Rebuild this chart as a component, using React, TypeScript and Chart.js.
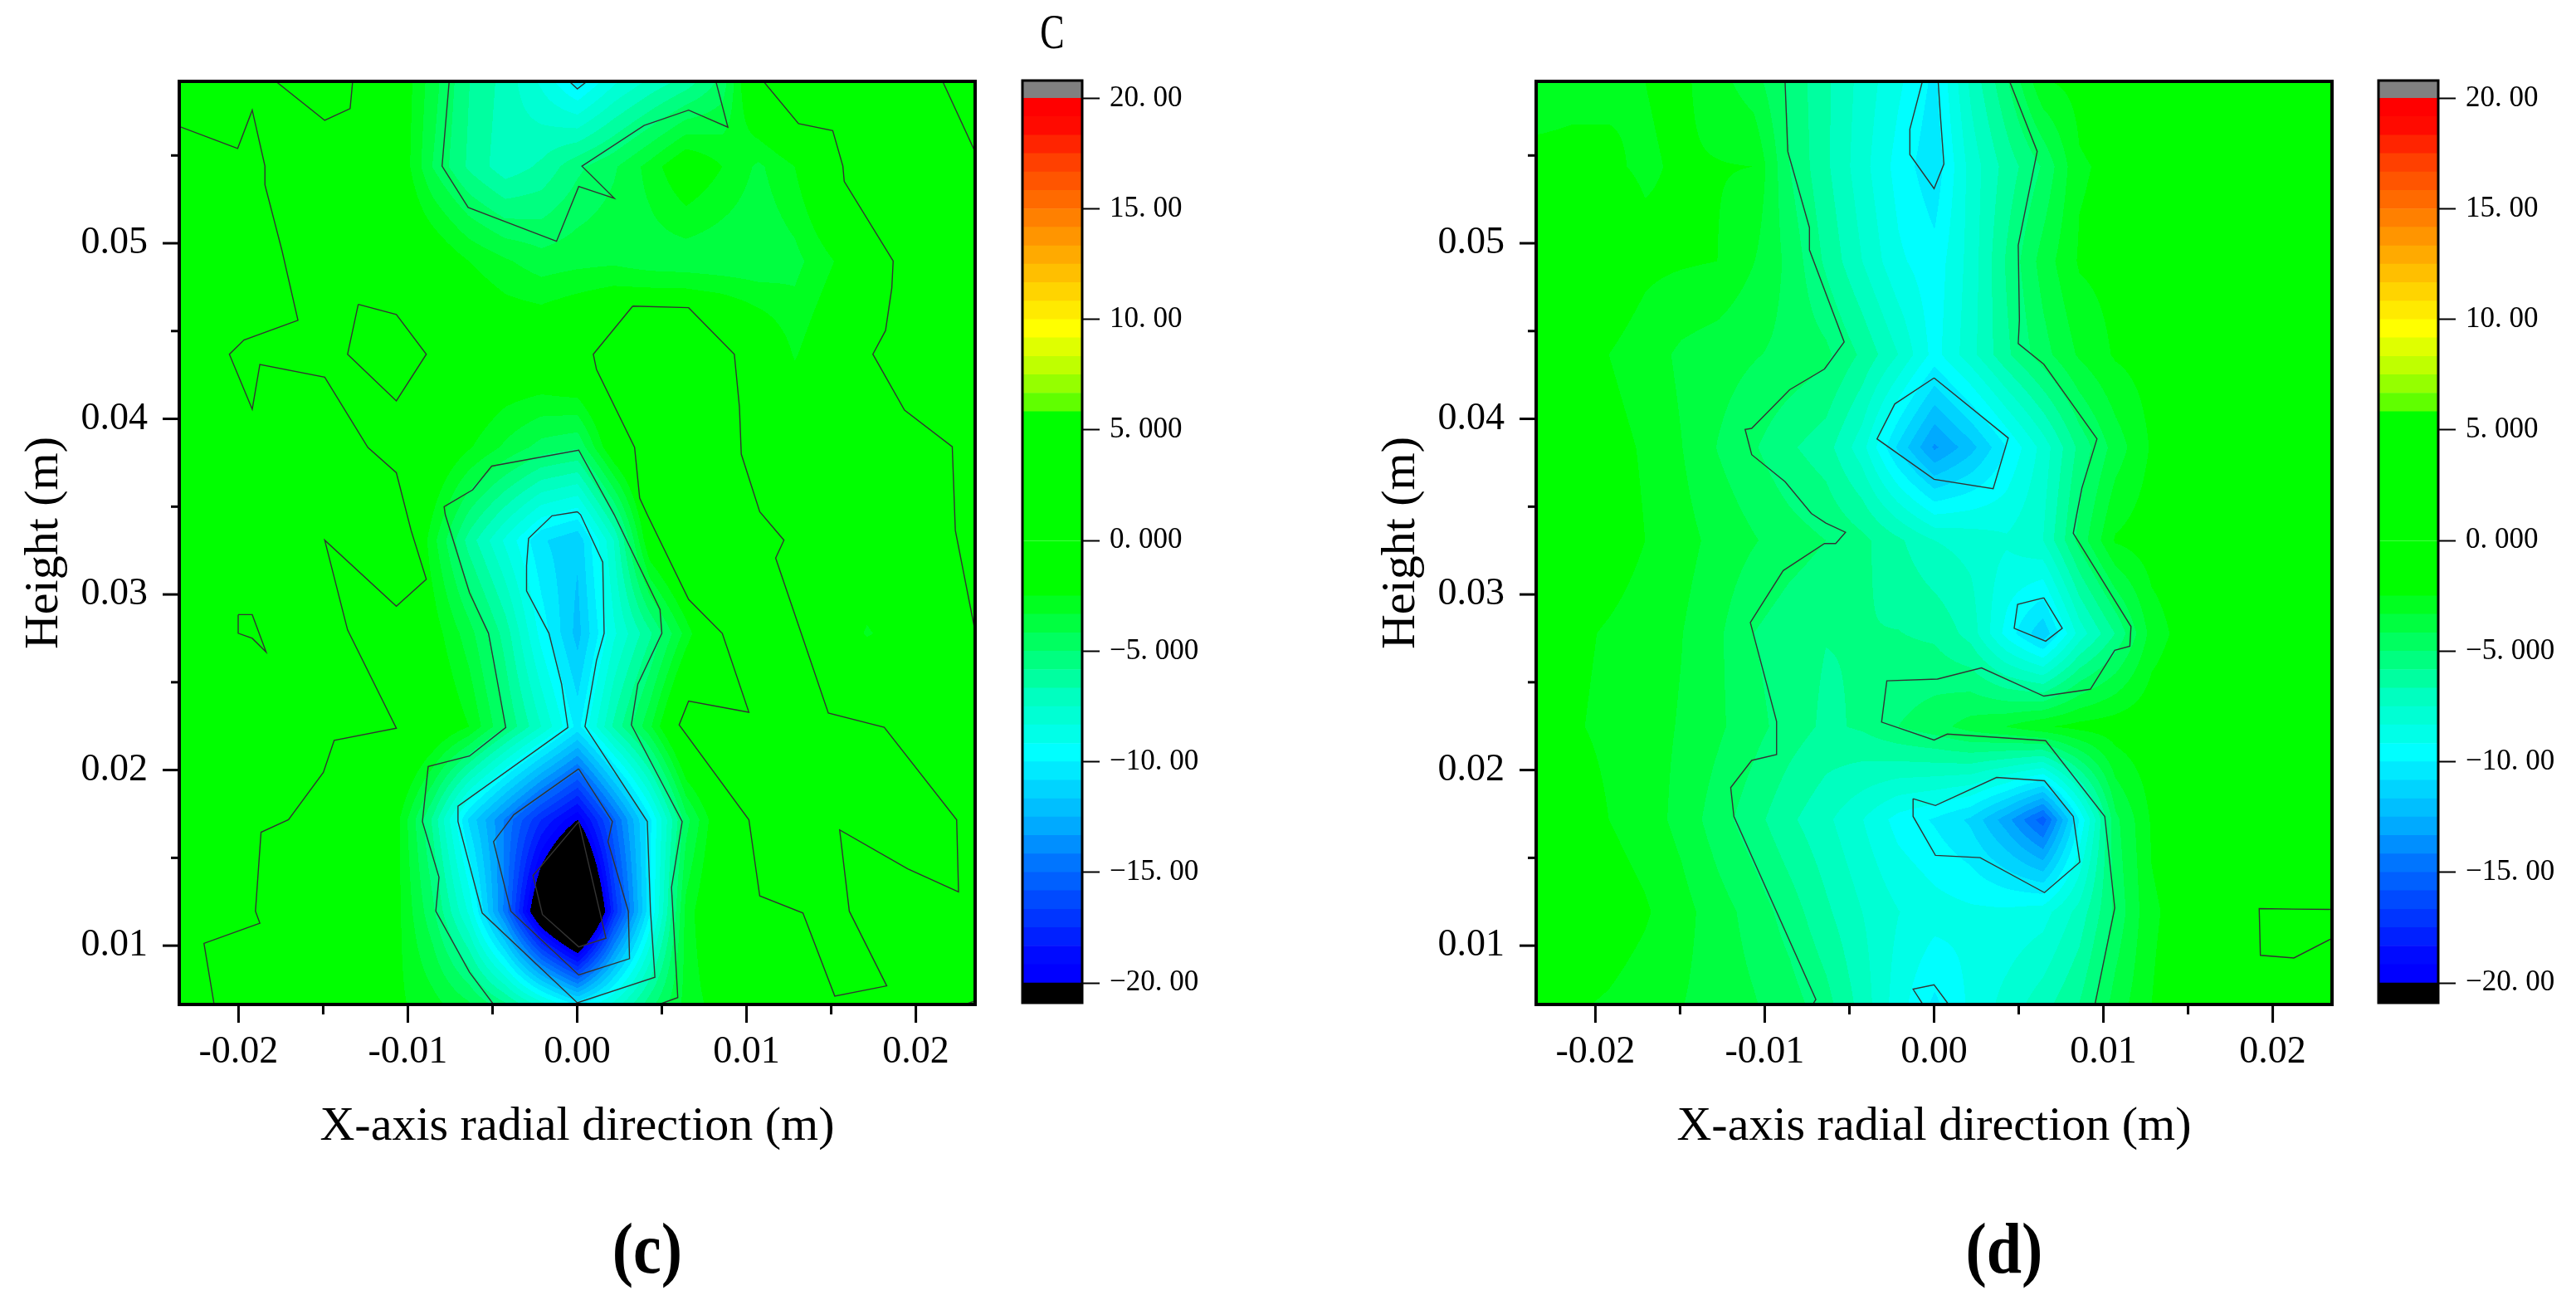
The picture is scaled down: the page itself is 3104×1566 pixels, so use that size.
import { useEffect, useRef } from 'react';
import Chart from 'chart.js/auto';

// all positions in the field and the contours are in millimetres
const MM = 0.001;

const xNodes = [-23.5, -21.36, -19.23, -17.09, -14.95, -12.82, -10.68, -8.55, -6.41, -4.27, -2.14, 0, 2.14, 4.27, 6.41, 8.55, 10.68, 12.82, 14.95, 17.09, 19.23, 21.36, 23.5];
const yNodes = [6.65, 11.96, 17.2, 22.5, 27.8, 33.1, 38.4, 43.68, 49.0, 54.39, 59.22];

// rows go from the bottom of the plot to the top
const fieldC = [
  [0.5, 0, -0.4, -0.8, -1.1, -1.6, -2.3, -3, -4, -5.6, -7.8, -10.1, -8, -5.3, -3, -2, -1.4, -1, -0.6, -0.7, -0.8, -0.5, -0.2],
  [1.5, 0.8, 0.1, -0.4, -0.8, -1.3, -2.2, -4.8, -8.5, -14.5, -22.5, -28, -17.5, -10.1, -3, -0.8, -0.2, -0.1, 0.5, -0.6, -0.8, -0.6, -0.2],
  [1.5, 1.2, 0.8, 0, -0.6, -1, -2.2, -6, -11, -14.3, -17.5, -20, -15.2, -10.2, -4.5, -1.3, 0.2, 0.6, 0.3, 0.4, 0.5, 0.2, -0.4],
  [1.5, 1.4, 1.2, 1, 0.6, 0.3, 0, -1.2, -2.5, -5, -7.5, -10.3, -6.5, -3.5, 0.2, 0.8, 1, 0.5, 0.3, 0.1, -0.4, -0.6, -0.3],
  [0.8, 0.5, -0.1, 0.5, 0.2, -0.3, -1, -2, -3.8, -6.2, -9.5, -12, -8.5, -6, -3, 0, 0.6, 0.2, -1.6, -2.6, -2, -1, 0],
  [1.5, 1.2, 0.8, 0.3, 0, 0.3, 0.2, -3, -6.2, -8.5, -10.7, -11.5, -7.5, -1.5, 0.5, 1, 0.6, -0.3, -1, -1.5, -1.2, -0.3, 0.4],
  [1.5, 1.2, 1, 0.8, 0.4, 0.05, -0.5, -1.2, -2.4, -3.5, -4.5, -4.9, -1.5, 0.4, 1, 0.6, -0.3, -1, -1.2, -1, -0.6, -0.2, 0.4],
  [1.2, 0.5, -0.5, -0.6, -0.3, 0.2, 0.6, -0.1, -0.8, -1.2, -1, -0.4, 0.3, 0.8, 0.9, 0.3, -1, -2.6, -1.5, -0.2, 0.6, 1, 1.2],
  [1.5, 1.2, 0.6, -0.2, -0.6, -0.8, -1, -1.5, -2.5, -3.2, -3.8, -3.6, -3.5, -3.8, -3.9, -4, -4, -3.6, -2.6, -1.5, 0.2, 1, 1.2],
  [1, 0.8, 0.3, -0.4, -0.8, -1, -1.5, -4.2, -6, -7.2, -6.5, -5.2, -4.3, -3, -1.5, -2.5, -3.5, -2.5, -0.5, 0.5, 0.8, 0.6, 0.2],
  [-1, -1, -0.8, 0.3, 0.5, -0.3, -1.5, -3.8, -5.8, -7, -8.5, -10.3, -8.5, -7.3, -6.3, -4.7, -0.4, 0.8, 1, 1, 0.8, 0.1, -0.8],
];

const fieldD = [
  [-2.2, -2.4, -2.6, -2.9, -3.3, -3.7, -4.1, -4.6, -5.5, -7, -8.8, -10.2, -9, -8, -7, -5.8, -3.8, -2.5, -2, -1.8, -1.6, -1.4, -1.2],
  [-1.4, -1.7, -2, -2.4, -3, -3.8, -4.5, -5.4, -6.5, -7.5, -8.3, -8.8, -9, -9, -8.7, -7.2, -4.8, -2.6, -2.2, -1.6, 0, 0.3, 0.1],
  [-1.6, -1.9, -2.5, -2.9, -3.6, -4.6, -5.5, -6.5, -7.3, -8.3, -9.5, -10.1, -11, -13, -15.5, -10, -4.4, -2.4, -2, -1.8, -1.5, -1.2, -1],
  [-1.6, -2.4, -2.7, -3, -3.4, -4, -4.7, -5.4, -6, -5.7, -5, -4.5, -3.8, -3.3, -2.6, -2.2, -2, -1.8, -1.6, -1.4, -1.3, -1.2, -1],
  [-1.6, -2.3, -2.6, -2.9, -3.3, -4, -5, -5.5, -5.8, -5.8, -5.8, -6, -7, -9.5, -11.5, -8, -5.8, -3, -2, -1.6, -1.4, -1.2, -1],
  [-1.5, -1.8, -2, -2.5, -3, -3.6, -4.1, -4.6, -5, -5.6, -6.5, -7.5, -7.8, -8.2, -7.5, -4.7, -2.4, -2, -1.8, -1.6, -1.4, -1.2, -1],
  [-1.5, -1.8, -2.2, -2.6, -3.3, -4.2, -4.9, -5.7, -6.3, -8, -11, -13.5, -12, -10, -8, -5.6, -3.8, -2.4, -2.1, -1.9, -1.5, -1.2, -1],
  [-1.5, -1.7, -2.5, -2.9, -3.5, -3.8, -4.1, -4.4, -4.8, -6, -7.5, -9.5, -7.8, -6, -4.5, -3.2, -2.4, -2.1, -1.8, -1.5, -1.3, -1.2, -1],
  [-1.4, -1.6, -1.8, -2.3, -2.4, -2.5, -3.3, -4.4, -6, -7.5, -9, -9.7, -8, -5.7, -3.8, -2.4, -2.2, -2, -1.6, -1.4, -1.3, -1.2, -1],
  [-2.2, -2.2, -2.4, -2.6, -2.4, -2.45, -2.5, -5, -6.5, -8, -9.5, -10.6, -8, -6.3, -4.9, -2.6, -2.3, -1.8, -1.5, -1.3, -1.2, -1.1, -1],
  [-3, -2.8, -2.6, -2.5, -2.3, -3, -3.8, -5.2, -6.5, -7.8, -9, -10.2, -7.3, -5.1, -2.6, -2.2, -1.8, -1.6, -1.5, -1.4, -1.2, -1.1, -1],
];

// contour lines, [x, y]
const contoursC = [
  [[-23.5, 56.65], [-20.05, 55.4], [-19.19, 57.58], [-18.44, 54.39], [-18.44, 53.33], [-17.43, 49.57], [-16.49, 45.61], [-19.68, 44.49], [-20.54, 43.68], [-19.19, 40.55], [-18.74, 43.1], [-14.91, 42.37], [-12.36, 38.37], [-10.68, 36.93], [-9.81, 33.65], [-8.91, 30.87], [-10.68, 29.33], [-14.91, 33.09], [-13.56, 27.98], [-10.68, 22.38], [-14.35, 21.69], [-14.99, 19.87], [-17.05, 17.17], [-18.67, 16.46], [-19.0, 11.96], [-18.74, 11.28], [-22.04, 10.13], [-21.44, 6.65]],
  [[-17.8, 59.22], [-14.91, 57.0], [-13.41, 57.67], [-13.26, 59.22]],
  [[-12.93, 46.52], [-10.68, 45.94], [-8.91, 43.68], [-10.68, 41.02], [-13.56, 43.68], [-12.93, 46.52]],
  [[-0.47, 59.22], [0.01, 58.79], [0.58, 59.22]],
  [[-7.56, 59.22], [-7.98, 54.39], [-6.44, 52.04], [-1.22, 50.11], [0.09, 53.23], [2.19, 52.56], [0.28, 54.39], [3.95, 56.71], [6.58, 57.58], [8.9, 56.61], [8.19, 59.22]],
  [[3.28, 46.42], [6.58, 46.33], [9.28, 43.68], [9.58, 40.69], [9.69, 37.99], [10.78, 34.71], [12.21, 33.09], [11.72, 32.07], [14.83, 23.25], [18.13, 22.44], [22.41, 17.17], [22.52, 13.06], [19.52, 14.37], [15.5, 16.59], [16.07, 11.96], [18.28, 7.71], [15.21, 7.13], [13.33, 11.86], [10.78, 12.83], [10.14, 17.17], [6.02, 22.57], [6.58, 23.93], [10.14, 23.29], [8.57, 27.78], [6.58, 29.72], [4.14, 34.54], [3.69, 35.48], [3.39, 38.37], [1.14, 42.81], [0.95, 43.68], [3.28, 46.42]],
  [[11.0, 59.22], [13.07, 56.81], [15.09, 56.42], [15.69, 54.39], [15.77, 53.52], [18.66, 48.99], [18.58, 47.45], [18.21, 45.03], [17.46, 43.68], [19.33, 40.5], [22.15, 38.41], [22.33, 33.65], [23.5, 27.9]],
  [[21.58, 59.22], [23.5, 55.2]],
  [[-20.02, 28.85], [-19.19, 28.85], [-18.37, 26.72], [-19.19, 27.5], [-20.02, 27.79], [-20.02, 28.85]],
  [[4.82, 6.65], [5.94, 7.04], [5.57, 13.31], [6.2, 17.07], [3.2, 22.57], [3.58, 24.89], [5.0, 27.79], [4.89, 29.14], [2.19, 34.54], [0.09, 38.22], [-5.05, 37.31], [-6.17, 35.96], [-7.86, 35.0], [-7.79, 34.54], [-6.36, 30.1], [-5.24, 27.79], [-4.94, 26.24], [-4.22, 22.42], [-6.36, 20.8], [-8.8, 20.2], [-9.14, 17.07], [-8.16, 13.89], [-8.35, 11.96], [-6.36, 8.49], [-4.94, 6.65]],
  [[0.01, 34.71], [-1.49, 34.48], [-2.87, 33.19], [-2.99, 31.65], [-2.99, 30.2], [-1.67, 27.79], [-0.92, 24.89], [-0.55, 22.42], [-7.04, 17.94], [-7.04, 17.07], [-5.61, 11.86], [0.01, 6.75], [4.59, 8.2], [4.33, 11.96], [4.14, 17.07], [0.46, 22.48], [1.14, 26.24], [1.59, 27.79], [1.51, 31.84], [0.2, 34.54], [0.01, 34.71]],
  [[0.09, 20.07], [2.08, 17.07], [1.82, 15.92], [3.02, 11.96], [3.09, 9.26], [0.09, 8.33], [-3.92, 11.96], [-4.94, 15.92], [-3.74, 17.46], [0.09, 20.07]],
  [[0.09, 17.07], [1.7, 10.42], [0.09, 9.93], [-2.05, 11.77], [-2.61, 13.99], [0.09, 17.07]],
  [[22.9, 6.65], [23.5, 6.85]],
];

const contoursD = [
  [[-8.8, 59.22], [-8.64, 55.23], [-7.36, 50.89], [-7.36, 49.62], [-5.31, 44.38], [-6.47, 42.84], [-8.53, 41.66], [-10.77, 39.46], [-11.16, 39.4], [-10.77, 37.96], [-8.8, 36.42], [-7.25, 34.61], [-6.39, 34.06], [-5.23, 33.54], [-5.81, 32.9], [-6.47, 32.9], [-8.91, 31.36], [-10.85, 28.4], [-9.3, 22.77], [-9.3, 20.88], [-10.77, 20.55], [-12.01, 19.0], [-11.82, 17.36], [-6.98, 6.94], [-7.17, 6.65]],
  [[4.46, 59.22], [6.09, 55.23], [4.97, 49.89], [5.04, 45.64], [4.97, 44.29], [6.48, 43.11], [9.62, 38.86], [8.73, 36.06], [8.42, 34.54], [8.22, 33.48], [11.63, 28.17], [11.56, 27.05], [10.67, 26.82], [9.23, 24.6], [6.48, 24.21], [2.8, 25.82], [0.2, 25.18], [-2.79, 25.08], [-3.1, 22.73], [0, 21.71], [0.78, 22.05], [6.59, 21.67], [10.08, 17.36], [10.67, 12.15], [9.5, 6.65]],
  [[-0.69, 59.22], [-1.43, 56.5], [-1.43, 55.05], [0, 53.11], [0.58, 54.51], [0.39, 57.04], [0.24, 59.22]],
  [[0, 42.33], [4.38, 38.91], [3.49, 36.02], [0, 36.56], [-3.37, 38.86], [-2.32, 40.85], [0, 42.33]],
  [[6.48, 29.81], [7.57, 28.07], [6.59, 27.34], [4.73, 28.07], [4.93, 29.43], [6.48, 29.81]],
  [[-1.24, 18.37], [0.08, 17.98], [3.69, 19.58], [6.52, 19.39], [8.22, 17.36], [8.61, 14.76], [6.52, 13.02], [2.72, 15.01], [0.08, 15.14], [-1.24, 17.36], [-1.24, 18.37]],
  [[-0.66, 6.65], [-1.24, 7.52], [0, 7.77], [0.86, 6.65]],
  [[23.5, 12.06], [21.25, 12.08], [19.2, 12.11], [19.27, 9.45], [21.25, 9.3], [23.5, 10.41]],
];

const xMajorTicks = [-0.02, -0.01, 0, 0.01, 0.02];
const xMinorTicks = [-0.015, -0.005, 0.005, 0.015];
const yMajorTicks = [0.01, 0.02, 0.03, 0.04, 0.05];
const yMinorTicks = [0.015, 0.025, 0.035, 0.045, 0.055];

// colour scale: 48 bands between 49 levels, bottom to top
const bandLevels = [-20, -19.17, -18.33, -17.5, -16.67, -15.83, -15, -14.17, -13.33, -12.5, -11.67, -10.83, -10, -9.17, -8.33, -7.5, -6.67, -5.83, -5, -4.17, -3.33, -2.5, -1.67, -0.83, 0, 0.83, 1.67, 2.5, 3.33, 4.17, 5, 5.83, 6.67, 7.5, 8.33, 9.17, 10, 10.83, 11.67, 12.5, 13.33, 14.17, 15, 15.83, 16.67, 17.5, 18.33, 19.17, 20];
const bandColors = [
  '#0000ff', '#000aff', '#0020ff', '#0035ff', '#004aff', '#0060ff', '#0075ff', '#008fff', '#00aaff', '#00bfff', '#00d4ff', '#00eaff',
  '#00ffff', '#00ffe8', '#00ffd4', '#00ffc0', '#00ffa0', '#00ff80', '#00ff60', '#00ff40', '#00ff20',
  '#00ff00', '#00ff00', '#00ff00', '#00ff00', '#00ff00', '#00ff00', '#00ff00', '#00ff00', '#00ff00', '#00ff00',
  '#60ff00', '#95ff00', '#bfff00', '#dfff00', '#ffff00', '#ffea00', '#ffd400', '#ffbf00', '#ffaa00', '#ff9500', '#ff8000', '#ff6a00', '#ff5500', '#ff4000', '#ff2400', '#ff0a00', '#ff0000',
];
const underColor = '#000000';
const overColor = '#808080';
const colorTicks = [20, 15, 10, 5, 0, -5, -10, -15, -20];
const colorTickLabels = ['20. 00', '15. 00', '10. 00', '5. 000', '0. 000', '\u22125. 000', '\u221210. 00', '\u221215. 00', '\u221220. 00'];

const SERIF = '"Liberation Serif", serif';

function hexToRgb(hex: string): number[] {
  return [1, 3, 5].map(i => parseInt(hex.slice(i, i + 2), 16));
}

const bandRgb = bandColors.map(hexToRgb);
const underRgb = hexToRgb(underColor);
const overRgb = hexToRgb(overColor);

function colorForValue(v: number): number[] {
  if (v < bandLevels[0]) return underRgb;
  for (let i = 0; i < bandRgb.length; i++) {
    if (v < bandLevels[i + 1]) return bandRgb[i];
  }
  return overRgb;
}

function findCell(nodes: number[], v: number): number {
  for (let i = 0; i < nodes.length - 2; i++) {
    if (v < nodes[i + 1]) return i;
  }
  return nodes.length - 2;
}

function sampleField(field: number[][], x: number, y: number): number {
  const i = findCell(xNodes, x);
  const j = findCell(yNodes, y);
  const tx = (x - xNodes[i]) / (xNodes[i + 1] - xNodes[i]);
  const ty = (y - yNodes[j]) / (yNodes[j + 1] - yNodes[j]);
  const low = field[j][i] * (1 - tx) + field[j][i + 1] * tx;
  const high = field[j + 1][i] * (1 - tx) + field[j + 1][i + 1] * tx;
  return low * (1 - ty) + high * ty;
}

// paints the banded field under the contour lines, going through the scales for every pixel
function fieldPlugin(field: number[][]) {
  return {
    id: 'bandedField',
    beforeDatasetsDraw(chart: any) {
      const { ctx, chartArea, scales } = chart;
      const left = Math.round(chartArea.left);
      const top = Math.round(chartArea.top);
      const w = Math.round(chartArea.right - chartArea.left);
      const h = Math.round(chartArea.bottom - chartArea.top);
      const image = ctx.createImageData(w, h);
      for (let py = 0; py < h; py++) {
        const y = scales.y.getValueForPixel(top + py) / MM;
        for (let px = 0; px < w; px++) {
          const x = scales.x.getValueForPixel(left + px) / MM;
          const c = colorForValue(sampleField(field, x, y));
          const k = (py * w + px) * 4;
          image.data[k] = c[0];
          image.data[k + 1] = c[1];
          image.data[k + 2] = c[2];
          image.data[k + 3] = 255;
        }
      }
      ctx.putImageData(image, left, top);
    },
  };
}

const axisFurniture = {
  id: 'axisFurniture',
  afterDraw(chart: any) {
    const { ctx, chartArea, scales } = chart;
    ctx.save();
    ctx.strokeStyle = '#000';
    ctx.lineWidth = 3;
    const mark = (x1: number, y1: number, x2: number, y2: number) => {
      ctx.beginPath();
      ctx.moveTo(x1, y1);
      ctx.lineTo(x2, y2);
      ctx.stroke();
    };
    xMajorTicks.forEach(v => {
      const p = scales.x.getPixelForValue(v);
      mark(p, chartArea.bottom, p, chartArea.bottom + 22);
    });
    xMinorTicks.forEach(v => {
      const p = scales.x.getPixelForValue(v);
      mark(p, chartArea.bottom, p, chartArea.bottom + 12);
    });
    yMajorTicks.forEach(v => {
      const p = scales.y.getPixelForValue(v);
      mark(chartArea.left, p, chartArea.left - 20, p);
    });
    yMinorTicks.forEach(v => {
      const p = scales.y.getPixelForValue(v);
      mark(chartArea.left, p, chartArea.left - 10, p);
    });
    ctx.lineWidth = 4;
    ctx.strokeRect(chartArea.left, chartArea.top, chartArea.right - chartArea.left, chartArea.bottom - chartArea.top);
    ctx.restore();
  },
};

function ContourPanel({ left, field, contours }: { left: number; field: number[][]; contours: number[][][] }) {
  const canvasRef = useRef<HTMLCanvasElement | null>(null);

  useEffect(() => {
    if (!canvasRef.current) return;
    const chart = new Chart(canvasRef.current, {
      type: 'scatter',
      data: {
        datasets: contours.map(line => ({
          data: line.map(p => ({ x: p[0] * MM, y: p[1] * MM })),
          showLine: true,
          pointRadius: 0,
          borderColor: '#333333',
          borderWidth: 1.4,
          tension: 0,
        })),
      },
      plugins: [fieldPlugin(field), axisFurniture],
      options: {
        animation: false,
        responsive: false,
        devicePixelRatio: 1,
        layout: { padding: { top: 98, right: 25, left: 0, bottom: 0 } },
        plugins: { legend: { display: false }, tooltip: { enabled: false } },
        scales: {
          x: {
            type: 'linear',
            min: -0.0235,
            max: 0.0235,
            afterFit: (s: any) => { s.height = 190; },
            afterBuildTicks: (s: any) => { s.ticks = xMajorTicks.map(value => ({ value })); },
            border: { display: false },
            grid: { display: false, drawTicks: false },
            ticks: {
              autoSkip: false,
              maxRotation: 0,
              padding: 30,
              color: '#000',
              font: { family: SERIF, size: 46 },
              callback: (v: any) => Number(v).toFixed(2),
            },
            title: {
              display: true,
              text: 'X-axis radial direction (m)',
              color: '#000',
              font: { family: SERIF, size: 58, lineHeight: 1.2 },
              padding: { top: 0, bottom: 7 },
            },
          },
          y: {
            type: 'linear',
            min: 0.00665,
            max: 0.05922,
            afterFit: (s: any) => { s.width = 216; },
            afterBuildTicks: (s: any) => { s.ticks = yMajorTicks.map(value => ({ value })); },
            border: { display: false },
            grid: { display: false, drawTicks: false },
            ticks: {
              autoSkip: false,
              padding: 38,
              color: '#000',
              font: { family: SERIF, size: 46 },
              callback: (v: any) => Number(v).toFixed(2),
            },
            title: {
              display: true,
              text: 'Height (m)',
              color: '#000',
              font: { family: SERIF, size: 58, lineHeight: 1.2 },
              padding: { top: 19, bottom: 0 },
            },
          },
        },
      },
    } as any);
    return () => chart.destroy();
  }, [field, contours]);

  return <canvas ref={canvasRef} width={1200} height={1400} style={{ position: 'absolute', left, top: 0 }} />;
}

const barFurniture = {
  id: 'barFurniture',
  afterDraw(chart: any) {
    const { ctx, chartArea } = chart;
    ctx.save();
    ctx.strokeStyle = '#000';
    ctx.lineWidth = 3;
    ctx.strokeRect(chartArea.left, chartArea.top, chartArea.right - chartArea.left, chartArea.bottom - chartArea.top);
    ctx.restore();
  },
};

function ColorBar({ left }: { left: number }) {
  const canvasRef = useRef<HTMLCanvasElement | null>(null);

  useEffect(() => {
    if (!canvasRef.current) return;
    const bands = bandColors.map((color, i) => ({
      data: [[bandLevels[i], bandLevels[i + 1]]],
      backgroundColor: color,
      grouped: false,
      barPercentage: 1,
      categoryPercentage: 1,
    }));
    const chart = new Chart(canvasRef.current, {
      type: 'bar',
      data: {
        labels: ['C'],
        datasets: [
          { data: [[-20.9, bandLevels[0]]], backgroundColor: underColor, grouped: false, barPercentage: 1, categoryPercentage: 1 },
          ...bands,
          { data: [[bandLevels[bandLevels.length - 1], 20.8]], backgroundColor: overColor, grouped: false, barPercentage: 1, categoryPercentage: 1 },
        ],
      },
      plugins: [barFurniture],
      options: {
        animation: false,
        responsive: false,
        devicePixelRatio: 1,
        layout: { padding: { top: 97, left: 32, bottom: 192, right: 0 } },
        plugins: { legend: { display: false }, tooltip: { enabled: false } },
        scales: {
          x: { display: false },
          y: {
            position: 'right',
            min: -20.9,
            max: 20.8,
            afterFit: (s: any) => { s.width = 166; },
            afterBuildTicks: (s: any) => { s.ticks = colorTicks.map(value => ({ value })); },
            border: { display: false },
            grid: { drawOnChartArea: false, drawTicks: true, tickLength: 21, tickColor: '#000', tickWidth: 2 },
            ticks: {
              autoSkip: false,
              padding: 12,
              color: '#000',
              font: { family: SERIF, size: 35 },
              callback: (v: any) => colorTickLabels[colorTicks.indexOf(Number(v))],
            },
          },
        },
      },
    } as any);
    return () => chart.destroy();
  }, []);

  return <canvas ref={canvasRef} width={270} height={1400} style={{ position: 'absolute', left, top: 0 }} />;
}

function Caption({ text, x, y, size, stretch, bold }: { text: string; x: number; y: number; size: number; stretch: number; bold?: boolean }) {
  return (
    <div style={{
      position: 'absolute',
      left: x - 100,
      top: y - size / 2,
      width: 200,
      textAlign: 'center',
      fontFamily: SERIF,
      fontSize: size,
      lineHeight: 1,
      fontWeight: bold ? 700 : 400,
      color: '#000',
      transform: `scaleY(${stretch})`,
    }}>
      {text}
    </div>
  );
}

export default function App() {
  return (
    <div style={{ position: 'absolute', left: 0, top: 0, width: 3104, height: 1566, background: '#fff', overflow: 'hidden' }}>
      <ContourPanel left={0} field={fieldC} contours={contoursC} />
      <ColorBar left={1200} />
      <ContourPanel left={1635} field={fieldD} contours={contoursD} />
      <ColorBar left={2834} />
      <Caption text="C" x={1268} y={39} size={44} stretch={1.35} />
      <Caption text="(c)" x={780} y={1504} size={76} stretch={1.13} bold />
      <Caption text="(d)" x={2415} y={1504} size={76} stretch={1.13} bold />
    </div>
  );
}
